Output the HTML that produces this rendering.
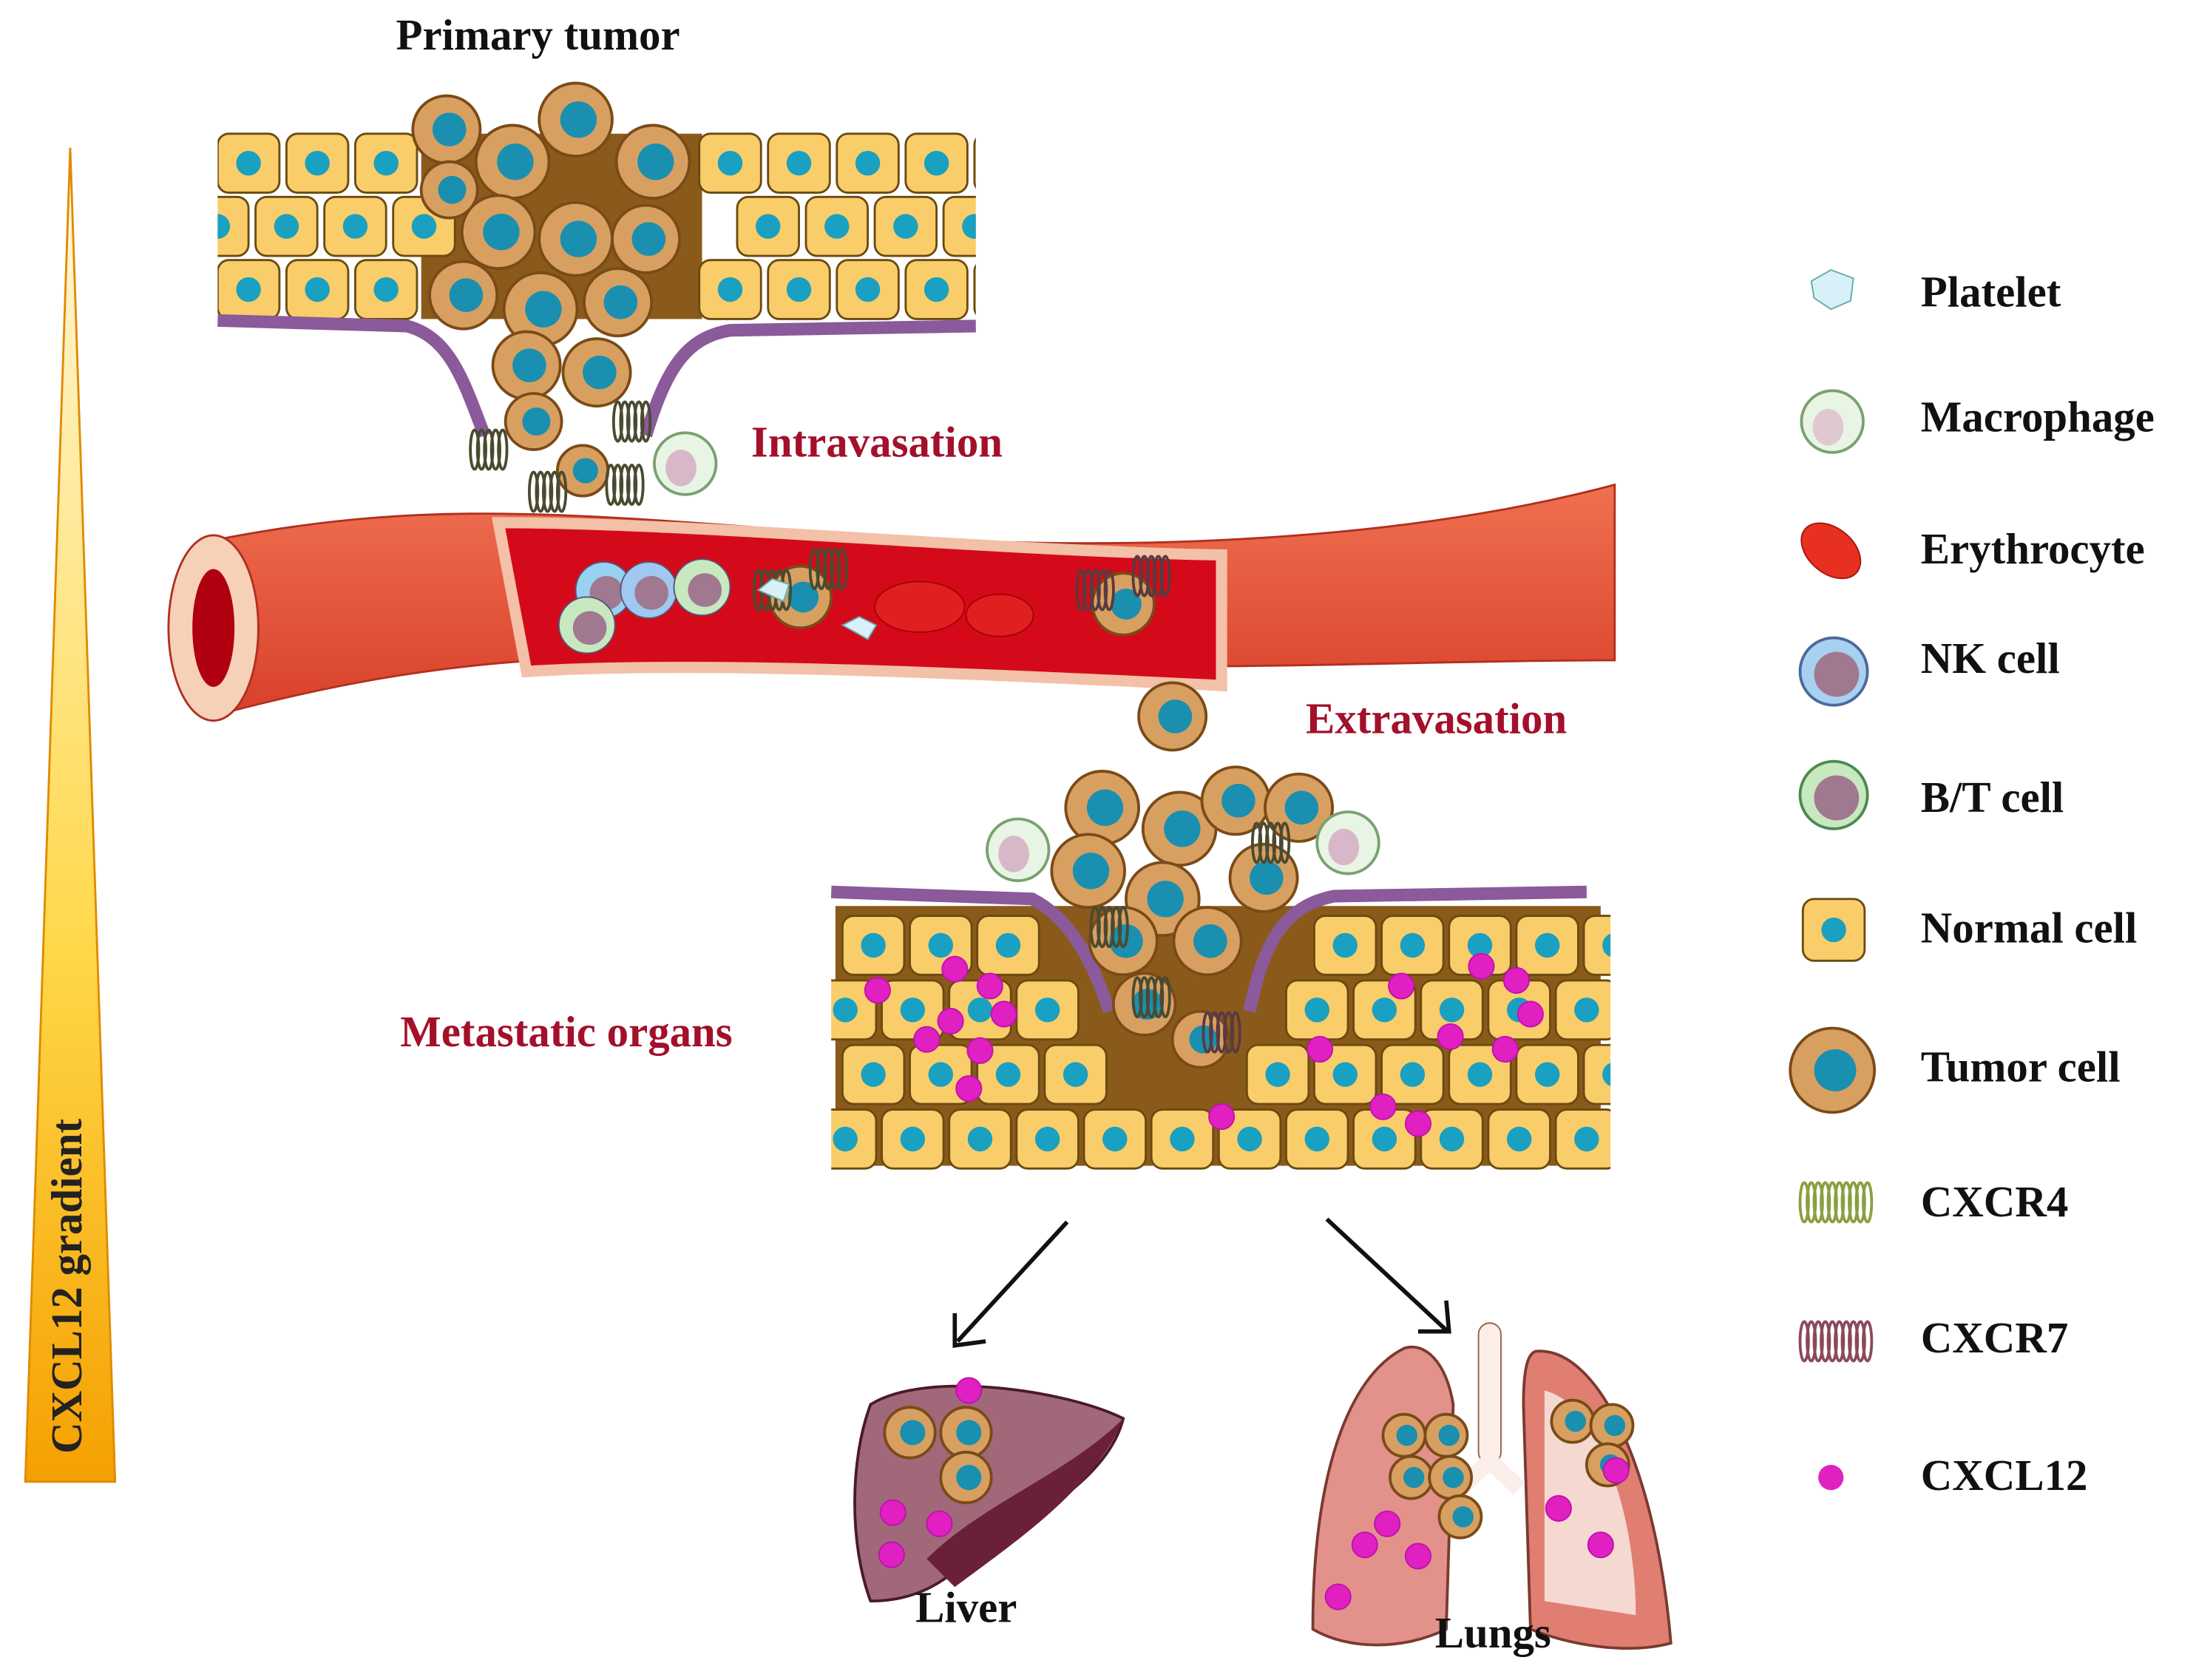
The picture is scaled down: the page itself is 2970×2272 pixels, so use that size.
<!DOCTYPE html>
<html><head><meta charset="utf-8"><style>
html,body{margin:0;padding:0;background:#fff;}
svg{display:block}
text{font-family:"Liberation Serif",serif;font-weight:bold;}
</style></head><body>
<svg id="s" width="2970" height="2272" viewBox="0 0 1564 1196" xmlns="http://www.w3.org/2000/svg">
<defs>
<linearGradient id="gr" x1="0" y1="0" x2="0" y2="1">
<stop offset="0" stop-color="#fff8e0"/><stop offset="0.6" stop-color="#ffd84a"/><stop offset="1" stop-color="#f5a000"/></linearGradient>
<linearGradient id="vs" x1="0" y1="0" x2="0" y2="1">
<stop offset="0" stop-color="#f07050"/><stop offset="1" stop-color="#d8402a"/></linearGradient>
<clipPath id="tc"><rect x="155" y="0" width="540" height="400"/></clipPath>
<clipPath id="bc"><rect x="592" y="0" width="555" height="900"/></clipPath>
</defs>
<polygon points="50,105 82,1055 18,1055" fill="url(#gr)" stroke="#e08a00" stroke-width="1.5"/>
<text transform="translate(58,1035) rotate(-90)" font-size="31" fill="#222">CXCL12 gradient</text>

<g id="topg" clip-path="url(#tc)"></g>
<g id="top"></g>
<path d="M150,385 C300,355 400,365 600,380 C800,395 1000,385 1150,345 L1150,470 C1000,470 850,480 600,470 C400,462 300,470 150,510 Z" fill="url(#vs)" stroke="#b03020" stroke-width="1.5"/>
<path d="M355,372 C500,372 700,392 870,395 L870,488 C700,480 500,470 375,478 Z" fill="#d40a1a" stroke="#f3c0a8" stroke-width="8"/>
<ellipse cx="152" cy="447" rx="32" ry="66" fill="#f7d0b8" stroke="#b03020" stroke-width="1.5"/>
<ellipse cx="152" cy="447" rx="15" ry="42" fill="#b00010"/>
<g id="vcells"></g>
<g id="botg" clip-path="url(#bc)"></g>
<g id="bot"></g>
<g stroke="#111" stroke-width="3" fill="none">
<line x1="760" y1="870" x2="682" y2="955"/><polyline points="680,935 680,958 702,955"/>
<line x1="945" y1="868" x2="1030" y2="947"/><polyline points="1010,948 1032,948 1030,926"/>
</g>
<path d="M620,1000 C660,975 760,990 800,1010 C790,1050 740,1080 700,1100 C680,1120 660,1140 620,1140 C605,1100 605,1040 620,1000 Z" fill="#a06878" stroke="#4a1a2a" stroke-width="2"/>
<path d="M660,1110 C700,1070 760,1050 800,1010 C780,1060 720,1100 680,1130 Z" fill="#6a2038"/>
<path d="M1000,960 C960,980 935,1050 935,1160 C960,1175 1000,1175 1030,1160 L1035,1000 C1030,970 1015,955 1000,960 Z" fill="#e2928a" stroke="#7a3a30" stroke-width="2"/>
<path d="M1095,962 C1140,960 1180,1050 1190,1170 C1160,1178 1120,1172 1090,1160 L1085,1000 C1085,975 1088,962 1095,962 Z" fill="#e07e72" stroke="#7a3a30" stroke-width="2"/>
<path d="M1100,990 C1140,1000 1165,1080 1165,1150 L1100,1140 Z" fill="#f5d8d0"/>
<rect x="1053" y="942" width="16" height="100" rx="8" fill="#fbeee8" stroke="#9a6050"/>
<path d="M1040,1060 L1061,1040 L1082,1060" stroke="#fbeee8" stroke-width="12" fill="none"/>
<g id="org"></g>
<text x="282" y="35" font-size="31" fill="#111">Primary tumor</text>
<text x="535" y="325" font-size="31" fill="#a3102a">Intravasation</text>
<text x="930" y="522" font-size="31" fill="#a3102a">Extravasation</text>
<text x="285" y="745" font-size="31" fill="#a3102a">Metastatic organs</text>
<text x="652" y="1155" font-size="31" fill="#111">Liver</text>
<text x="1022" y="1173" font-size="31" fill="#111">Lungs</text>
<g font-size="31" fill="#111">
<text x="1368" y="218">Platelet</text>
<text x="1368" y="307">Macrophage</text>
<text x="1368" y="401">Erythrocyte</text>
<text x="1368" y="479">NK cell</text>
<text x="1368" y="578">B/T cell</text>
<text x="1368" y="671">Normal cell</text>
<text x="1368" y="770">Tumor cell</text>
<text x="1368" y="866">CXCR4</text>
<text x="1368" y="963">CXCR7</text>
<text x="1368" y="1061">CXCL12</text>
</g>
<g id="leg"></g>
</svg>
<script>
var NS="http://www.w3.org/2000/svg";
function add(id,tag,a){var e=document.createElementNS(NS,tag);for(var k in a)e.setAttribute(k,a[k]);document.getElementById(id).appendChild(e);return e;}
function ncell(g,x,y,w,h){add(g,"rect",{x:x,y:y,width:w,height:h,rx:8,fill:"#f9cd6a",stroke:"#6a4a10","stroke-width":1.5});add(g,"circle",{cx:x+w/2,cy:y+h/2,r:w*0.2,fill:"#1aa0c0"});}
function tcell(g,x,y,r){add(g,"circle",{cx:x,cy:y,r:r,fill:"#d8a060",stroke:"#7a4a18","stroke-width":2});add(g,"circle",{cx:x+2,cy:y,r:r*0.5,fill:"#1a8fb0"});}
function dot(g,x,y){add(g,"circle",{cx:x,cy:y,r:9,fill:"#e020c0",stroke:"#c010b0"});}
function rec(g,x,y,c){for(var i=0;i<5;i++)add(g,"ellipse",{cx:x+i*5,cy:y,rx:3,ry:14,fill:"none",stroke:c,"stroke-width":2});}
add("topg","rect",{x:300,y:95,width:200,height:132,fill:"#8a5a1a"});
for(var r=0;r<3;r++)for(var c=-1;c<12;c++){var x=155+c*49+(r==1?-22:0);if(x>300&&x<490)continue;if(x<110||x>700)continue;ncell("topg",x,95+r*45,44,42);}
add("top","path",{d:"M155,228 L290,232 C320,240 330,270 345,310 M460,310 C475,260 490,240 520,235 L695,232",stroke:"#8a5a9a","stroke-width":9,fill:"none"});
var tc=[[318,92,24],[365,115,26],[410,85,26],[465,115,26],[320,135,20],[355,165,26],[410,170,26],[460,170,24],[330,210,24],[385,220,26],[440,215,24],[375,260,24],[425,265,24],[380,300,20],[415,335,18]];
tc.forEach(function(t){tcell("top",t[0],t[1],t[2]);});
rec("top",338,320,"#4a4a30");rec("top",440,300,"#4a4a30");rec("top",380,350,"#4a4a30");rec("top",435,345,"#4a4a30");
add("top","circle",{cx:488,cy:330,r:22,fill:"#e8f5e4",stroke:"#7aa070","stroke-width":2});add("top","ellipse",{cx:485,cy:333,rx:11,ry:13,fill:"#d8b8c8"});
[[430,420,"#9ad0f0"],[418,445,"#c8e8c0"],[462,420,"#a0c8f0"],[500,418,"#c8e8c0"]].forEach(function(v){add("vcells","circle",{cx:v[0],cy:v[1],r:20,fill:v[2],stroke:"#557"});add("vcells","circle",{cx:v[0]+2,cy:v[1]+2,r:12,fill:"#a07890"});});
add("vcells","ellipse",{cx:655,cy:432,rx:32,ry:18,fill:"#e02020",stroke:"#a00"});add("vcells","ellipse",{cx:712,cy:438,rx:24,ry:15,fill:"#e02020",stroke:"#a00"});
tcell("vcells",570,425,22);rec("vcells",540,420,"#4a4a30");rec("vcells",580,405,"#4a4a30");
tcell("vcells",800,430,22);rec("vcells",770,420,"#5a3a40");rec("vcells",810,410,"#5a3a40");
add("vcells","path",{d:"M540,420 l10,-8 l12,4 l-4,12 Z",fill:"#d8f0f8",stroke:"#6aa"});add("vcells","path",{d:"M600,445 l12,-6 l12,6 l-6,10 Z",fill:"#d8f0f8",stroke:"#6aa"});
add("botg","rect",{x:595,y:645,width:545,height:185,fill:"#8a5a1a"});
for(var r=0;r<4;r++)for(var c=-1;c<13;c++){var x=600+c*48+(r%2?-20:0);var y=652+r*46;if(r<2&&x>735&&x<890)continue;if(r==2&&x>780&&x<860)continue;if(x<560||x>1130)continue;ncell("botg",x,y,44,42);}
add("bot","path",{d:"M592,635 L735,640 C765,655 780,690 790,720 M890,720 C900,670 915,645 950,638 L1130,635",stroke:"#8a5a9a","stroke-width":9,fill:"none"});
[[835,510,24],[785,575,26],[840,590,26],[880,570,24],[925,575,24],[775,620,26],[828,640,26],[900,625,24],[800,670,24],[860,670,24],[815,715,22],[855,740,20]].forEach(function(t){tcell("bot",t[0],t[1],t[2]);});
rec("bot",780,660,"#4a4a30");rec("bot",895,600,"#4a4a30");rec("bot",810,710,"#4a4a30");rec("bot",860,735,"#5a3a40");
[[725,605],[960,600]].forEach(function(m){add("bot","circle",{cx:m[0],cy:m[1],r:22,fill:"#e8f5e4",stroke:"#7aa070","stroke-width":2});add("bot","ellipse",{cx:m[0]-3,cy:m[1]+3,rx:11,ry:13,fill:"#d8b8c8"});});
[[625,705],[680,690],[705,702],[715,722],[677,727],[660,740],[698,748],[690,775],[870,795],[940,747],[998,702],[1033,738],[985,788],[1010,800],[1055,688],[1080,698],[1090,722],[1072,747]].forEach(function(d){dot("bot",d[0],d[1]);});
[[648,1020,18],[688,1020,18],[688,1052,18],[1000,1022,15],[1030,1022,15],[1005,1052,15],[1033,1052,15],[1040,1080,15],[1120,1012,15],[1148,1015,15],[1145,1043,15]].forEach(function(t){tcell("org",t[0],t[1],t[2]);});
[[690,990],[636,1077],[669,1085],[635,1107],[988,1085],[972,1100],[1010,1108],[953,1137],[1110,1074],[1140,1100],[1151,1047]].forEach(function(d){dot("org",d[0],d[1]);});
add("leg","path",{d:"M1290,200 l14,-8 l16,6 l-2,16 l-14,6 l-12,-8 Z",fill:"#d8f0f8",stroke:"#6aa"});
add("leg","circle",{cx:1305,cy:300,r:22,fill:"#e8f5e4",stroke:"#7aa070","stroke-width":2});add("leg","ellipse",{cx:1302,cy:304,rx:11,ry:13,fill:"#e0c8d0"});
add("leg","ellipse",{cx:1304,cy:392,rx:24,ry:16,transform:"rotate(40 1304 392)",fill:"#e83020",stroke:"#a01a10"});
add("leg","circle",{cx:1306,cy:478,r:24,fill:"#a8d0f0",stroke:"#4a6a9a","stroke-width":2});add("leg","circle",{cx:1308,cy:480,r:16,fill:"#a07890"});
add("leg","circle",{cx:1306,cy:566,r:24,fill:"#c8e8c0",stroke:"#4a8a50","stroke-width":2});add("leg","circle",{cx:1308,cy:568,r:16,fill:"#a07890"});
ncell("leg",1284,640,44,44);
tcell("leg",1305,762,30);
rec("leg",1285,856,"#8aa040");rec("leg",1310,856,"#8aa040");
rec("leg",1285,955,"#8a4a5a");rec("leg",1310,955,"#8a4a5a");
add("leg","circle",{cx:1304,cy:1052,r:9,fill:"#e020c0"});
</script>
</body></html>
